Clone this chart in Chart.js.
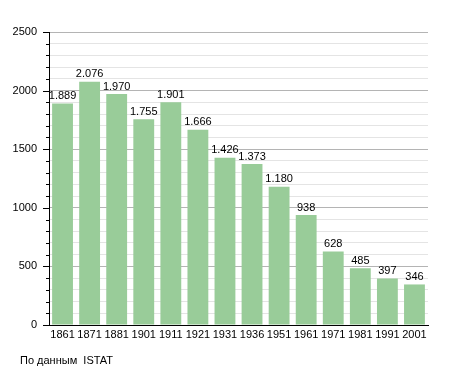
<!DOCTYPE html>
<html>
<head>
<meta charset="utf-8">
<script src="https://cdn.jsdelivr.net/npm/chart.js@4/dist/chart.umd.min.js"></script>
<style>
  html, body { margin: 0; padding: 0; background: #fff; overflow: hidden; }
</style>
</head>
<body>
<canvas id="myChart" width="455" height="373"></canvas>
<script>
const years = ["1861", "1871", "1881", "1901", "1911", "1921", "1931", "1936", "1951", "1961", "1971", "1981", "1991", "2001"];
const population = [1889, 2076, 1970, 1755, 1901, 1666, 1426, 1373, 1180, 938, 628, 485, 397, 346];
const yMax = 2500;
const yStep = 100;
const majorStep = 500;
const sourceText = "По данным  ISTAT";

const font = "'Liberation Sans', Arial, sans-serif";

const fmt = (v) => String(v).replace(/\B(?=(\d{3})+(?!\d))/g, ".");

const extras = {
    id: "extras",
    afterDatasetsDraw(chart) {
        const ctx = chart.ctx;
        const meta = chart.getDatasetMeta(0);
        ctx.save();
        ctx.fillStyle = "#000";
        ctx.font = "11px " + font;
        ctx.textAlign = "center";
        ctx.textBaseline = "bottom";
        meta.data.forEach((bar, idx) => {
            ctx.fillText(fmt(population[idx]), bar.x, bar.y - 2);
        });
        ctx.restore();
    },
    afterDraw(chart) {
        const ctx = chart.ctx;
        const y = chart.scales.y;
        const left = chart.chartArea.left;
        ctx.save();
        // tick marks on the y axis
        ctx.strokeStyle = "#000";
        ctx.lineWidth = 1;
        for (let v = 0; v <= yMax; v += yStep) {
            const py = Math.round(y.getPixelForValue(v)) + 0.5;
            const len = v % majorStep === 0 ? 6 : 3;
            ctx.beginPath();
            ctx.moveTo(left - len, py);
            ctx.lineTo(left, py);
            ctx.stroke();
        }
        ctx.fillStyle = "#000";
        ctx.font = "11px " + font;
        ctx.textAlign = "left";
        ctx.textBaseline = "middle";
        ctx.fillText(sourceText, 20, 361);
        ctx.restore();
    }
};

const ctx = document.getElementById("myChart").getContext("2d");
const myChart = new Chart(ctx, {
    type: "bar",
    data: {
        labels: years,
        datasets: [
            {
                data: population,
                backgroundColor: "#99cc99",
                borderWidth: 0,
                barPercentage: 0.77,
                categoryPercentage: 1
            }
        ]
    },
    options: {
        responsive: false,
        animation: false,
        devicePixelRatio: 1,
        layout: { padding: { top: 32, right: 27, left: 0, bottom: 0 } },
        plugins: { legend: { display: false }, tooltip: { enabled: false } },
        scales: {
            x: {
                grid: { display: false, drawTicks: false },
                border: { color: "#000", width: 1 },
                ticks: { color: "#000", font: { size: 11, family: font }, padding: 3, maxRotation: 0, autoSkip: false },
                afterFit: (s) => { s.height = 48; }
            },
            y: {
                min: 0,
                max: yMax,
                grid: {
                    drawTicks: false,
                    color: (c) => (c.tick && c.tick.value % majorStep === 0 ? "#b4b4b4" : "#e4e4e4")
                },
                border: { color: "#000", width: 1 },
                ticks: {
                    stepSize: yStep,
                    autoSkip: false,
                    padding: 12,
                    color: "#000",
                    font: { size: 11, family: font },
                    callback: (v) => (v % majorStep === 0 ? String(v) : "")
                },
                afterFit: (s) => { s.width = 49; }
            }
        }
    },
    plugins: [extras]
});
</script>
</body>
</html>
